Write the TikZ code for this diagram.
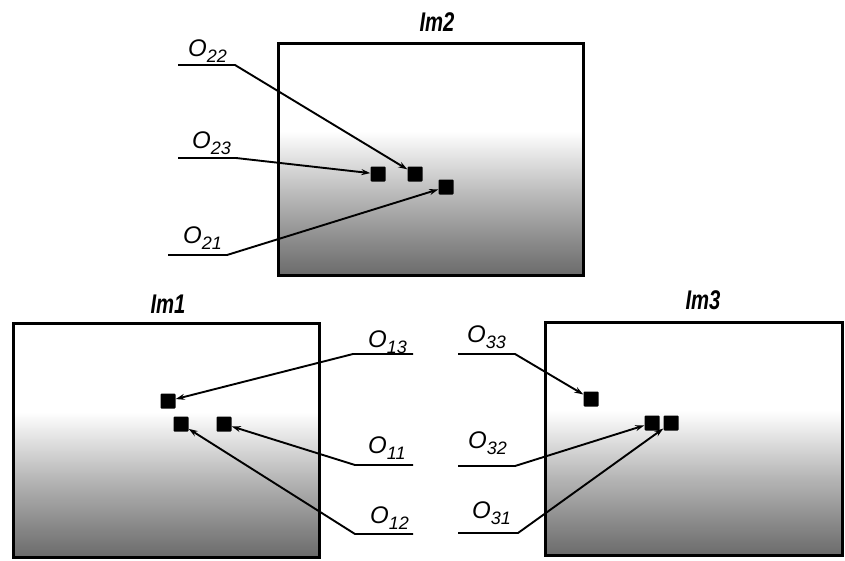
\documentclass[tikz,border=0pt]{standalone}
\usepackage{fontspec}
\setmainfont{Liberation Sans}
\usetikzlibrary{arrows.meta}
\pgfdeclareverticalshading{imgshade}{100bp}{color(0bp)=(black!58); color(25bp)=(black!58); color(32bp)=(black!46); color(42bp)=(black!28); color(50bp)=(black!12); color(56bp)=(white); color(100bp)=(white)}
\newcommand{\objlbl}[1]{\itshape O\raisebox{-6pt}{\fontsize{18}{18}\selectfont #1}}
\newcommand{\imtitle}[1]{\scalebox{0.75}[1]{\bfseries\itshape #1}}
\begin{document}
\begin{tikzpicture}[x=1pt,y=-1pt,
  imgbox/.style={draw, line width=3pt, shading=imgshade, inner sep=0pt},
  sq/.style={fill=black, minimum size=15pt, inner sep=0pt, rounded corners=1pt},
  leader/.style={line width=1.9pt, -{Stealth[length=9pt,width=6pt]}},
  lbl/.style={anchor=base west, inner sep=0pt, font=\fontsize{24}{24}\selectfont},
  ttl/.style={inner sep=0pt, font=\fontsize{27}{27}\selectfont}]
\useasboundingbox (0,0) rectangle (845,560);
% image boxes
\node[imgbox, minimum width=305pt, minimum height=232pt] (im2) at (430.5,159) {};
\node[imgbox, minimum width=306pt, minimum height=234pt] (im1) at (166,440) {};
\node[imgbox, minimum width=297pt, minimum height=233pt] (im3) at (694,438.5) {};
% titles
\node[ttl] (t2) at (437,22) {\imtitle{Im2}};
\node[ttl] (t1) at (168,304) {\imtitle{Im1}};
\node[ttl] (t3) at (703,300) {\imtitle{Im3}};
% objects
\node[sq] (o22) at (415,174) {};
\node[sq] (o23) at (378,174) {};
\node[sq] (o21) at (446,187) {};
\node[sq] (o13) at (168,401) {};
\node[sq] (o12) at (181,424) {};
\node[sq] (o11) at (224,424) {};
\node[sq] (o33) at (591,399) {};
\node[sq] (o32) at (652,423) {};
\node[sq] (o31) at (671,423) {};
% leader start points
\coordinate (a22) at (178,65);  \coordinate (b22) at (235,65);
\coordinate (a23) at (178,158); \coordinate (b23) at (236,158);
\coordinate (a21) at (168,255); \coordinate (b21) at (227,255);
\coordinate (a13) at (413,354); \coordinate (b13) at (353,354);
\coordinate (a11) at (413,465); \coordinate (b11) at (355,465);
\coordinate (a12) at (413,534); \coordinate (b12) at (355,534);
\coordinate (a33) at (458,354); \coordinate (b33) at (515,354);
\coordinate (a32) at (458,466); \coordinate (b32) at (515,466);
\coordinate (a31) at (458,533); \coordinate (b31) at (518,533);
% leaders
\draw[leader] (a22) -- (b22) -- (o22);
\draw[leader] (a23) -- (b23) -- (o23);
\draw[leader] (a21) -- (b21) -- (o21);
\draw[leader] (a13) -- (b13) -- (o13);
\draw[leader] (a11) -- (b11) -- (o11);
\draw[leader] (a12) -- (b12) -- (o12);
\draw[leader] (a33) -- (b33) -- (o33);
\draw[leader] (a32) -- (b32) -- (o32);
\draw[leader] (a31) -- (b31) -- (o31);
% labels
\node[lbl] (l22) at (188,56) {\objlbl{22}};
\node[lbl] (l23) at (192,148) {\objlbl{23}};
\node[lbl] (l21) at (183,243) {\objlbl{21}};
\node[lbl] (l13) at (368,347) {\objlbl{13}};
\node[lbl] (l11) at (368,453) {\objlbl{11}};
\node[lbl] (l12) at (370,523) {\objlbl{12}};
\node[lbl] (l33) at (467,342) {\objlbl{33}};
\node[lbl] (l32) at (468,448) {\objlbl{32}};
\node[lbl] (l31) at (472,518) {\objlbl{31}};
\end{tikzpicture}
\end{document}
